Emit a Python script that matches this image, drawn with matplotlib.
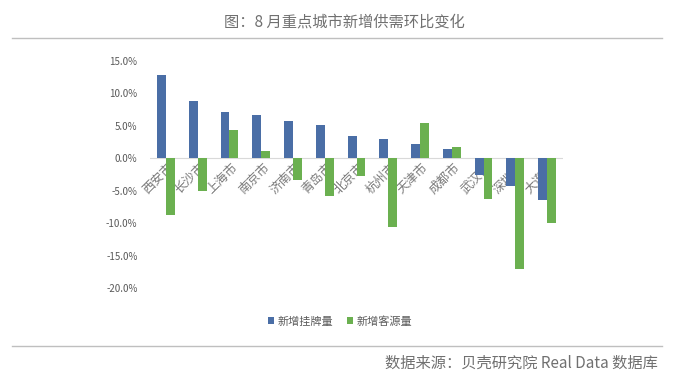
import numpy as np
import matplotlib.pyplot as plt
from matplotlib.ticker import FuncFormatter
from matplotlib.lines import Line2D

plt.rcParams['font.family'] = ['Noto Sans CJK SC', 'DejaVu Sans']

cities = ["西安市", "长沙市", "上海市", "南京市", "济南市", "青岛市", "北京市",
          "杭州市", "天津市", "成都市", "武汉市", "深圳市", "大连市"]
listing = [12.8, 8.9, 7.2, 6.6, 5.8, 5.2, 3.4, 2.9, 2.15, 1.5, -2.6, -4.3, -6.5]
buyers = [-8.8, -5.1, 4.3, 1.1, -3.4, -5.8, -2.8, -10.6, 5.4, 1.7, -6.3, -17.1, -10.0]
series_names = ["新增挂牌量", "新增客源量"]

blue = "#4a6ea6"
green = "#6bb050"
grey = "#595959"

fig = plt.figure(figsize=(6.75, 3.86), dpi=100)
ax = fig.add_axes([150 / 675, 1 - 288 / 386, 413 / 675, (288 - 61) / 386])

x = np.arange(len(cities))
w = 0.28
ax.bar(x - w / 2, listing, w, color=blue, label=series_names[0], zorder=3)
ax.bar(x + w / 2, buyers, w, color=green, label=series_names[1], zorder=3)

ax.set_xlim(-0.5, len(cities) - 0.5)
ax.set_ylim(-20, 15)
ax.set_yticks(np.arange(-20, 16, 5))
ax.yaxis.set_major_formatter(FuncFormatter(lambda v, p: f"{v:.1f}%"))
ax.tick_params(axis='y', length=0, labelsize=7, colors=grey, pad=9)
ax.set_xticks([])
for s in ax.spines.values():
    s.set_visible(False)
ax.axhline(0, color="#d9d9d9", lw=0.8, zorder=1)

# rotated category labels under the zero line, bars drawn over them
for xi, name in zip(x, cities):
    ax.text(xi + 0.05, -0.3, name, rotation=45, ha='right', va='top',
            rotation_mode='anchor', fontsize=9, color="#7a7a7a", zorder=2)

ax.legend(loc='upper center', bbox_to_anchor=(0.46, -0.08), ncol=2, frameon=False,
          fontsize=8, handlelength=0.6, handleheight=0.6, handletextpad=0.3,
          columnspacing=1.2, labelcolor=grey)

fig.text(0.51, 1 - 22 / 386, "图：8 月重点城市新增供需环比变化", ha='center', va='center',
         fontsize=11, color="#707070")
fig.add_artist(Line2D([12 / 675, 662 / 675], [1 - 38 / 386, 1 - 38 / 386],
                      color="#bfbfbf", lw=1))
fig.add_artist(Line2D([12 / 675, 662 / 675], [1 - 346 / 386, 1 - 346 / 386],
                      color="#bfbfbf", lw=1))
fig.text(658 / 675, 1 - 363 / 386, "数据来源：贝壳研究院 Real Data 数据库", ha='right',
         va='center', fontsize=11, color="#707070")

fig.savefig("out.png", dpi=100, facecolor="white")
